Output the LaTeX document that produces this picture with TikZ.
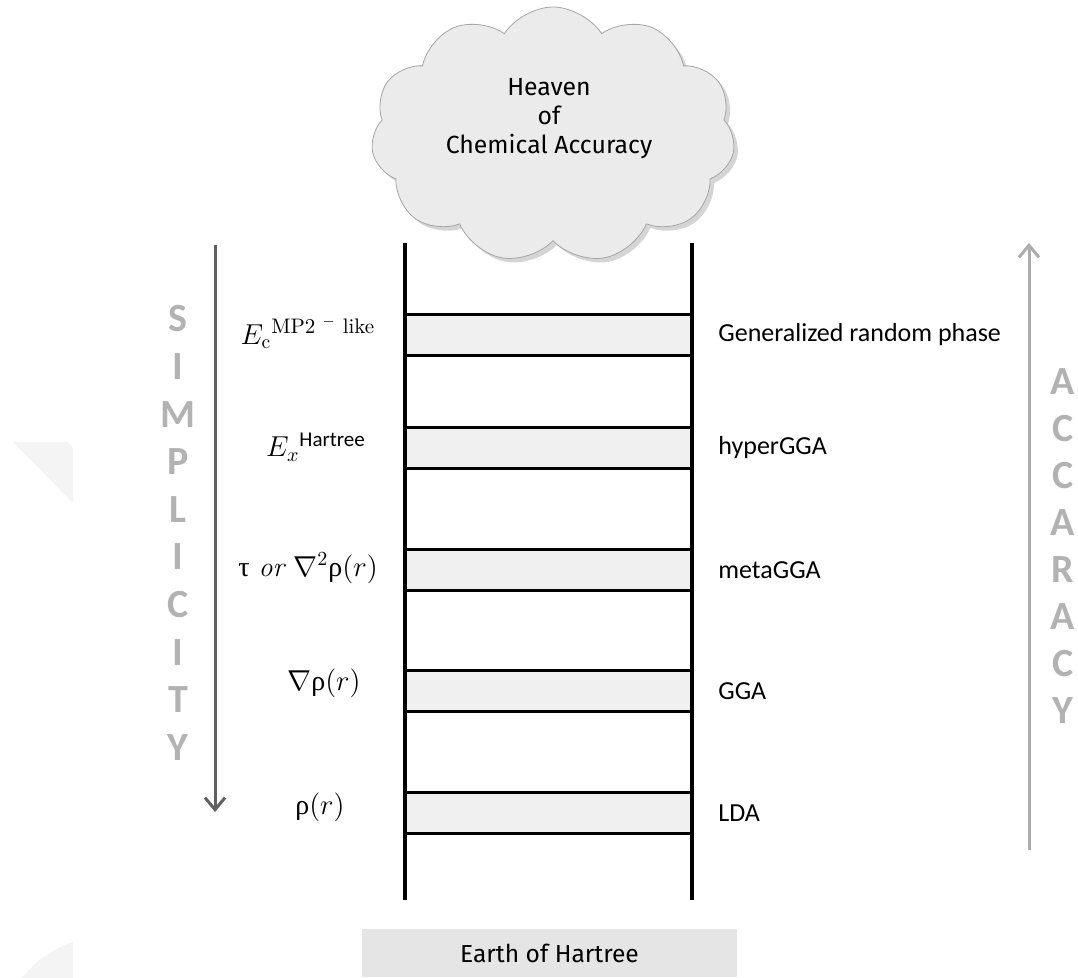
\documentclass[tikz,border=0pt]{standalone}
\usepackage{fontspec}
\newfontfamily\labelfont{Carlito}
\newfontfamily\cloudfont{Fira Sans}
\newfontfamily\greekfont{Liberation Serif}
\usetikzlibrary{shapes.symbols,shadows,arrows.meta}

\begin{document}
\begin{tikzpicture}[x=0.5pt, y=-0.5pt,
		rung/.style={draw=black, line width=1.4pt, fill=gray!12, minimum width=143.5pt, minimum height=20.5pt, inner sep=0pt},
		rail/.style={line width=2pt, black},
		levellabel/.style={anchor=west, inner sep=0pt, font=\labelfont\fontsize{13}{15}\selectfont},
		mathlabel/.style={inner sep=0pt, font=\fontsize{14}{16}\selectfont},
		sidechar/.style={inner sep=0pt, text=gray!60, font=\labelfont\bfseries\fontsize{20}{22}\selectfont}]
			\useasboundingbox (0,0) rectangle (1078,978);
			
			% Faint background shapes
			\fill[gray!9] (13,442) -- (68,442) -- (73,448) -- (73,503) -- cycle;
			\fill[gray!9] (22,978) .. controls (38,958) and (55,948) .. (73,942) -- (73,978) -- cycle;
			
			% Draw the rungs
			\foreach \y [count=\i] in {335,448,570,691,813}
			{
				\node[rung] (r\i) at (548.5,\y) {};
			}
			
			% Draw the rails
			\coordinate (lt) at (405,243);
			\coordinate (lb) at (405,900);
			\coordinate (rt) at (692,243);
			\coordinate (rb) at (692,900);
			\draw[rail] (lt) -- (lb);
			\draw[rail] (rt) -- (rb);
			
			% Draw the cloud
			\node[cloud, cloud puffs=11, cloud puff arc=115, cloud ignores aspect, draw=gray!70, thin, fill=gray!16,
				minimum width=182pt, minimum height=128pt,
				drop shadow={shadow xshift=2pt, shadow yshift=-2pt, fill=gray!65}] (heaven) at (553,135) {};
			\node[align=center, inner sep=0pt, font=\cloudfont\fontsize{12.4}{14.5}\selectfont] (heaventext) at (549,119) {Heaven\\of\\Chemical Accuracy};
			
			% Draw the ground
			\node[fill=gray!20, minimum width=187.5pt, minimum height=24pt, inner sep=0pt, font=\cloudfont\fontsize{12.3}{14}\selectfont] (earth) at (549.5,953) {Earth of Hartree};
			
			% Draw the level labels
			\node[levellabel] (grp) at (718,335) {Generalized random phase};
			\node[levellabel] (hyper) at (718,448) {hyperGGA};
			\node[levellabel] (meta) at (718,570) {metaGGA};
			\node[levellabel] (gga) at (718,691) {GGA};
			\node[levellabel] (lda) at (718,813) {LDA};
			
			\node[mathlabel] (mp2) at (308,333) {$E_{\mathrm{c}}{}^{\mbox{\fontsize{10.5}{12}\selectfont MP2 $^{-}$ like}}$};
			\node[mathlabel] (hf) at (316,447) {$E_x{}^{\mbox{\labelfont\fontsize{10.5}{12}\selectfont Hartree}}$};
			\node[mathlabel] (tau) at (308,568) {{\greekfont τ} $\mathit{or}$ $\nabla^2${\greekfont ρ}$(r)$};
			\node[mathlabel] (grad) at (324,683) {$\nabla${\greekfont ρ}$(r)$};
			\node[mathlabel] (rho) at (320,807) {{\greekfont ρ}$(r)$};
			
			% Draw the side arrows and words
			\coordinate (st) at (215,245);
			\coordinate (sb) at (215,812);
			\draw[line width=1.5pt, gray!75!black, -{Straight Barb[length=6pt, width=10pt]}] (st) -- (sb);
			\coordinate (ab) at (1029,850);
			\coordinate (at) at (1029,243);
			\draw[line width=1.5pt, gray!65, -{Straight Barb[length=6pt, width=10pt]}] (ab) -- (at);
			
			\foreach \ch [count=\i] in {S,I,M,P,L,I,C,I,T,Y}
			{
				\node[sidechar] (s\i) at (178,{319+47.6*(\i-1)}) {\ch};
			}
			\foreach \ch [count=\i] in {A,C,C,A,R,A,C,Y}
			{
				\node[sidechar] (a\i) at (1063,{382+47*(\i-1)}) {\ch};
			}
			
		\end{tikzpicture}
\end{document}
